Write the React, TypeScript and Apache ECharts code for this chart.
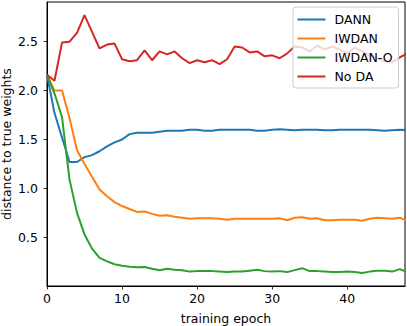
import React, { useEffect, useRef } from "react";
import * as echarts from "echarts";

const epochs = Array.from({ length: 49 }, (_, i) => i);

const dann = [2.16, 1.77, 1.52, 1.27, 1.27, 1.32, 1.34, 1.38, 1.43, 1.47, 1.5, 1.555, 1.57, 1.57, 1.57, 1.58, 1.59, 1.59, 1.59, 1.6, 1.6, 1.59, 1.59, 1.6, 1.6, 1.6, 1.6, 1.6, 1.59, 1.59, 1.6, 1.605, 1.6, 1.595, 1.6, 1.6, 1.6, 1.595, 1.595, 1.6, 1.6, 1.6, 1.6, 1.6, 1.595, 1.59, 1.595, 1.6, 1.595];

const iwdan = [2.16, 2.0, 2.0, 1.72, 1.39, 1.25, 1.12, 0.99, 0.92, 0.86, 0.82, 0.79, 0.76, 0.765, 0.74, 0.72, 0.725, 0.71, 0.7, 0.69, 0.695, 0.695, 0.695, 0.69, 0.68, 0.69, 0.69, 0.69, 0.69, 0.69, 0.69, 0.695, 0.675, 0.7, 0.705, 0.69, 0.695, 0.675, 0.675, 0.68, 0.68, 0.68, 0.67, 0.69, 0.7, 0.695, 0.69, 0.7, 0.67];

const iwdanO = [2.16, 1.97, 1.73, 1.09, 0.75, 0.53, 0.385, 0.29, 0.255, 0.225, 0.21, 0.2, 0.195, 0.197, 0.18, 0.165, 0.18, 0.17, 0.165, 0.15, 0.155, 0.155, 0.155, 0.15, 0.145, 0.15, 0.15, 0.16, 0.17, 0.155, 0.15, 0.155, 0.145, 0.165, 0.185, 0.155, 0.155, 0.15, 0.145, 0.145, 0.15, 0.145, 0.135, 0.15, 0.16, 0.16, 0.15, 0.175, 0.145];

const noDA = [2.16, 2.1, 2.49, 2.5, 2.59, 2.77, 2.6, 2.43, 2.47, 2.48, 2.32, 2.3, 2.31, 2.41, 2.31, 2.4, 2.37, 2.4, 2.33, 2.28, 2.31, 2.29, 2.31, 2.27, 2.32, 2.45, 2.44, 2.39, 2.4, 2.35, 2.36, 2.33, 2.38, 2.45, 2.44, 2.4, 2.46, 2.42, 2.45, 2.42, 2.38, 2.44, 2.4, 2.36, 2.33, 2.3, 2.29, 2.34, 2.38];

const xTicks = [0, 10, 20, 30, 40];
const yTicks = [0.5, 1.0, 1.5, 2.0, 2.5];

const seriesDefs = [
  { name: "DANN", values: dann, color: "#1f77b4" },
  { name: "IWDAN", values: iwdan, color: "#ff7f0e" },
  { name: "IWDAN-O", values: iwdanO, color: "#2ca02c" },
  { name: "No DA", values: noDA, color: "#d62728" },
];

const FONT = "DejaVu Sans";

export default function App() {
  const ref = useRef<HTMLDivElement>(null);
  useEffect(() => {
    if (!ref.current) return;
    const chart = echarts.init(ref.current, undefined, { renderer: "svg" });
    chart.setOption({
      animation: false,
      textStyle: { fontFamily: FONT },
      grid: {
        left: 47,
        top: 2,
        right: 2,
        bottom: 40,
        containLabel: false,
        outerBoundsMode: "none",
        show: true,
        borderColor: "#000",
        borderWidth: 1,
        backgroundColor: "transparent",
      },
      legend: {
        orient: "vertical",
        left: 293,
        top: 7,
        padding: [5, 6, 4, 4.5],
        icon: "rect",
        itemWidth: 28,
        itemHeight: 2,
        itemGap: 4,
        backgroundColor: "rgba(255,255,255,0.8)",
        borderColor: "#cccccc",
        borderWidth: 1,
        borderRadius: 3,
        textStyle: { fontFamily: FONT, fontSize: 12.5, lineHeight: 15, color: "#000", padding: [0, 0, 0, 4] },
        data: seriesDefs.map((s) => ({ name: s.name, icon: "rect", itemStyle: { color: s.color } })),
      },
      xAxis: {
        type: "value",
        min: 0,
        max: 47.7,
        name: "training epoch",
        nameLocation: "middle",
        nameGap: 25.5,
        nameMoveOverlap: false,
        nameTextStyle: { fontFamily: FONT, fontSize: 12.5, color: "#000" },
        axisLine: { show: true, lineStyle: { color: "#000", width: 1 } },
        axisTick: { show: true, inside: false, length: 3.5, lineStyle: { color: "#000", width: 0.8 }, customValues: xTicks },
        axisLabel: { fontFamily: FONT, fontSize: 12.5, color: "#000", margin: 6, customValues: xTicks },
        splitLine: { show: false },
      },
      yAxis: {
        type: "value",
        min: 0.003,
        max: 2.905,
        name: "distance to true weights",
        nameLocation: "middle",
        nameGap: 34,
        nameMoveOverlap: false,
        nameTextStyle: { fontFamily: FONT, fontSize: 12.5, color: "#000" },
        axisLine: { show: true, lineStyle: { color: "#000", width: 1 } },
        axisTick: { show: true, inside: false, length: 3.5, lineStyle: { color: "#000", width: 0.8 }, customValues: yTicks },
        axisLabel: {
          fontFamily: FONT,
          fontSize: 12.5,
          color: "#000",
          margin: 9,
          customValues: yTicks,
          formatter: (v: number) => v.toFixed(1),
        },
        splitLine: { show: false },
      },
      series: seriesDefs.map((s) => ({
        name: s.name,
        type: "line",
        data: epochs.map((e, i) => [e, s.values[i]]),
        symbol: "none",
        showSymbol: false,
        clip: true,
        color: s.color,
        lineStyle: { color: s.color, width: 2 },
        itemStyle: { color: s.color },
      })),
    });
    return () => chart.dispose();
  }, []);
  return <div ref={ref} style={{ width: 407, height: 326, position: "absolute", left: 0, top: 0 }} />;
}
